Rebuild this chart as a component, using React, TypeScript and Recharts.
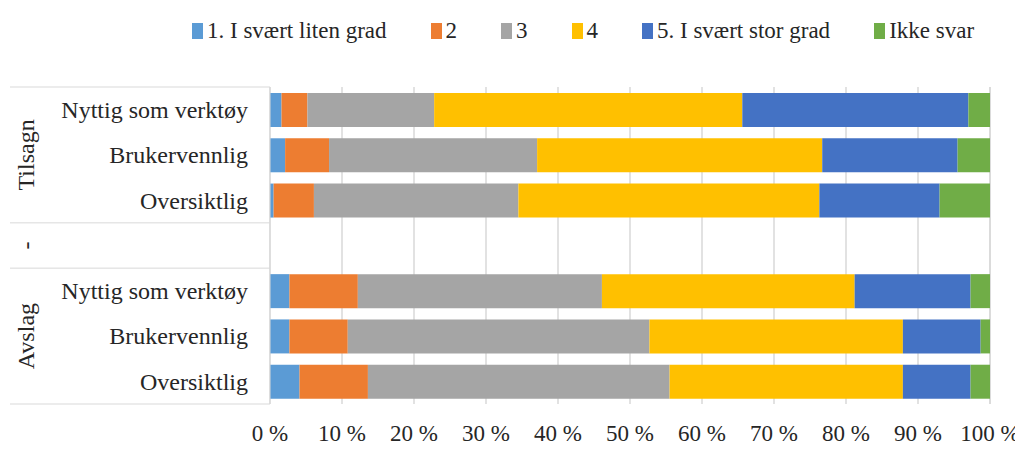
import { BarChart, Bar, XAxis, YAxis, CartesianGrid } from 'recharts';

// kategorier, ovenfra og ned (tom rad skiller gruppene)
const categories = ['Nyttig som verktøy', 'Brukervennlig', 'Oversiktlig', '', 'Nyttig som verktøy', 'Brukervennlig', 'Oversiktlig'];
const groups = ['Tilsagn', 'Tilsagn', 'Tilsagn', '-', 'Avslag', 'Avslag', 'Avslag'];

const svaertLiten = [1.6, 2.1, 0.5, null, 2.7, 2.7, 4.1];
const to = [3.6, 6.1, 5.6, null, 9.5, 8.1, 9.5];
const tre = [17.6, 28.9, 28.4, null, 33.9, 41.9, 41.9];
const fire = [42.8, 39.6, 41.8, null, 35.1, 35.2, 32.4];
const svaertStor = [31.4, 18.8, 16.7, null, 16.1, 10.8, 9.4];
const ikkeSvar = [3.0, 4.5, 7.0, null, 2.7, 1.3, 2.7];

const xTicks = [0, 10, 20, 30, 40, 50, 60, 70, 80, 90, 100];

const series = [
  { key: 's1', name: '1. I svært liten grad', color: '#5B9BD5', values: svaertLiten },
  { key: 's2', name: '2', color: '#ED7D31', values: to },
  { key: 's3', name: '3', color: '#A5A5A5', values: tre },
  { key: 's4', name: '4', color: '#FFC000', values: fire },
  { key: 's5', name: '5. I svært stor grad', color: '#4472C4', values: svaertStor },
  { key: 's6', name: 'Ikke svar', color: '#70AD47', values: ikkeSvar },
];

const data = categories.map((c, i) => {
  const row: any = { name: c, group: groups[i] };
  series.forEach((s) => (row[s.key] = s.values[i]));
  return row;
});

const FONT = '"Liberation Serif", "Times New Roman", serif';
const W = 1015;
const H = 441;
const TOP = 79;
const X_AXIS_H = 45;
const Y_AXIS_W = 262;
const BAND = (H - TOP - X_AXIS_H) / categories.length;
const LINE = '#d9d9d9';
const TEXT = '#262626';

function CategoryTick(props: any) {
  const { y, index, payload } = props;
  const first = index === 0 || groups[index] !== groups[index - 1];
  const last = index === categories.length - 1;
  // midterste rad i gruppen får gruppenavnet
  const idx = groups.map((g, i) => (g === groups[index] ? i : -1)).filter((i) => i >= 0);
  const isMid = idx[Math.floor(idx.length / 2)] === index;
  return (
    <g>
      <text x={240} y={y} dy="0.35em" textAnchor="end" fontSize={24} fontFamily={FONT} fill={TEXT}>
        {payload.value}
      </text>
      {first && <line x1={2} x2={Y_AXIS_W} y1={y - BAND / 2} y2={y - BAND / 2} stroke={LINE} />}
      {last && <line x1={2} x2={Y_AXIS_W} y1={y + BAND / 2} y2={y + BAND / 2} stroke={LINE} />}
      {isMid && (
        <text
          x={18}
          y={y}
          dy="0.35em"
          textAnchor="middle"
          fontSize={24}
          fontFamily={FONT}
          fill={TEXT}
          transform={`rotate(-90, 18, ${y})`}
        >
          {groups[index]}
        </text>
      )}
    </g>
  );
}

function LegendBox() {
  return (
    <div
      style={{
        position: 'absolute',
        top: 9,
        left: 184,
        display: 'flex',
        gap: 44,
        fontFamily: FONT,
        fontSize: 23,
        lineHeight: '28px',
        color: TEXT,
        whiteSpace: 'nowrap',
      }}
    >
      {series.map((s) => (
        <div key={s.key} style={{ display: 'flex', alignItems: 'center' }}>
          <span style={{ display: 'inline-block', width: 11, height: 16, background: s.color, marginRight: 4 }} />
          <span>{s.name}</span>
        </div>
      ))}
    </div>
  );
}

export default function App() {
  return (
    <div style={{ position: 'relative', width: W, height: H }}>
      <BarChart
        width={W}
        height={H}
        data={data}
        layout="vertical"
        margin={{ top: TOP, right: 33, bottom: 0, left: 0 }}
        barSize={34}
      >
        <CartesianGrid horizontal={false} stroke={LINE} strokeWidth={1.5} />
        <XAxis
          type="number"
          domain={[0, 100]}
          ticks={xTicks}
          tickFormatter={(v) => `${v} %`}
          axisLine={false}
          tickLine={false}
          height={X_AXIS_H}
          tickMargin={15}
          interval={0}
          tick={{ fontSize: 23, fontFamily: FONT, fill: TEXT }}
        />
        <YAxis
          type="category"
          dataKey="name"
          width={Y_AXIS_W}
          interval={0}
          tickLine={false}
          axisLine={{ stroke: LINE }}
          tick={<CategoryTick />}
        />
        {series.map((s) => (
          <Bar key={s.key} dataKey={s.key} name={s.name} stackId="a" fill={s.color} isAnimationActive={false} />
        ))}
      </BarChart>
      <LegendBox />
    </div>
  );
}
